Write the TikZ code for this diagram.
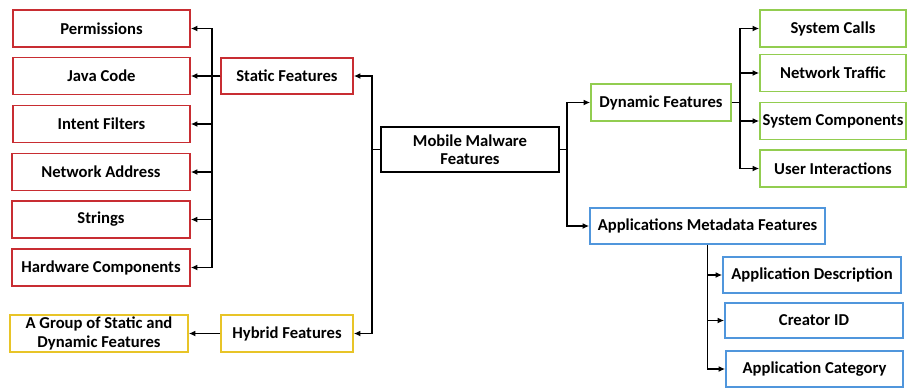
\documentclass[tikz,border=0pt]{standalone}
\usepackage{fontspec}
\setmainfont{Carlito}
\usetikzlibrary{arrows.meta}
\definecolor{redbox}{RGB}{200,45,50}
\definecolor{greenbox}{RGB}{146,205,80}
\definecolor{bluebox}{RGB}{80,150,220}
\definecolor{yellowbox}{RGB}{232,196,40}
\tikzset{
  feat/.style={draw=#1, line width=1.5pt, fill=white, inner sep=0pt, align=center,
    font=\fontsize{14.2}{15.5}\selectfont\bfseries},
  link/.style={draw=black, line width=1.3pt, -{Latex[length=5.5pt,width=5pt]}}
}
\begin{document}
\begin{tikzpicture}[x=0.03cm, y=-0.03cm]
\useasboundingbox (0,0) rectangle (907,387);
% root
\draw (470,149.5) node[feat=black, minimum width=178*0.03cm, minimum height=45*0.03cm](MMF){Mobile Malware\\Features};
% static branch
\draw (287,76) node[feat=redbox, minimum width=132*0.03cm, minimum height=36*0.03cm](SF){Static Features}
(101.5,28.5) node[feat=redbox, minimum width=177*0.03cm, minimum height=37*0.03cm](P){Permissions}
(101.5,76) node[feat=redbox, minimum width=177*0.03cm, minimum height=37*0.03cm](JC){Java Code}
(101.5,124) node[feat=redbox, minimum width=177*0.03cm, minimum height=37*0.03cm](IF){Intent Filters}
(101,172) node[feat=redbox, minimum width=178*0.03cm, minimum height=37*0.03cm](NA){Network Address}
(101,219.5) node[feat=redbox, minimum width=178*0.03cm, minimum height=37*0.03cm](ST){Strings}
(101,267.5) node[feat=redbox, minimum width=178*0.03cm, minimum height=37*0.03cm](HC){Hardware Components};
% hybrid branch
\draw (287,333.5) node[feat=yellowbox, minimum width=132*0.03cm, minimum height=37*0.03cm](HF){Hybrid Features}
(99,333.5) node[feat=yellowbox, minimum width=178*0.03cm, minimum height=37*0.03cm](G){A Group of Static and\\Dynamic Features};
% dynamic branch
\draw (661,102.5) node[feat=greenbox, minimum width=140*0.03cm, minimum height=37*0.03cm](DF){Dynamic Features}
(833,28.5) node[feat=greenbox, minimum width=146*0.03cm, minimum height=37*0.03cm](SC){System Calls}
(833,73) node[feat=greenbox, minimum width=146*0.03cm, minimum height=37*0.03cm](NT){Network Traffic}
(833,121) node[feat=greenbox, minimum width=146*0.03cm, minimum height=37*0.03cm](SYC){System Components}
(833,168.5) node[feat=greenbox, minimum width=146*0.03cm, minimum height=37*0.03cm](UI){User Interactions};
% metadata branch
\draw (707.5,226) node[feat=bluebox, minimum width=235*0.03cm, minimum height=36*0.03cm](AM){Applications Metadata Features}
(812,275) node[feat=bluebox, minimum width=178*0.03cm, minimum height=36*0.03cm](AD){Application Description}
(814,320.5) node[feat=bluebox, minimum width=178*0.03cm, minimum height=35*0.03cm](CI){Creator ID}
(814.5,369) node[feat=bluebox, minimum width=177*0.03cm, minimum height=36*0.03cm](AC){Application Category};
% junctions
\coordinate (ML) at (372,149.5);
\coordinate (MR) at (567,149.5);
\coordinate (SL) at (212,76);
\coordinate (DR) at (740,102.5);
% connectors
\draw [link] (MMF.west)--(ML)|-(SF.east);
\draw [link] (MMF.west)--(ML)|-(HF.east);
\draw [link] (MMF.east)--(MR)|-(DF.west);
\draw [link] (MMF.east)--(MR)|-(AM.west);
\draw [link] (SF.west)--(SL)|-(P.east);
\draw [link] (SF.west)--(SL)|-(JC.east);
\draw [link] (SF.west)--(SL)|-(IF.east);
\draw [link] (SF.west)--(SL)|-(NA.east);
\draw [link] (SF.west)--(SL)|-(ST.east);
\draw [link] (SF.west)--(SL)|-(HC.east);
\draw [link] (HF)--(G);
\draw [link] (DF.east)--(DR)|-(SC.west);
\draw [link] (DF.east)--(DR)|-(NT.west);
\draw [link] (DF.east)--(DR)|-(SYC.west);
\draw [link] (DF.east)--(DR)|-(UI.west);
\draw [link] (AM.south)|-(AD.west);
\draw [link] (AM.south)|-(CI.west);
\draw [link] (AM.south)|-(AC.west);
\end{tikzpicture}
\end{document}
